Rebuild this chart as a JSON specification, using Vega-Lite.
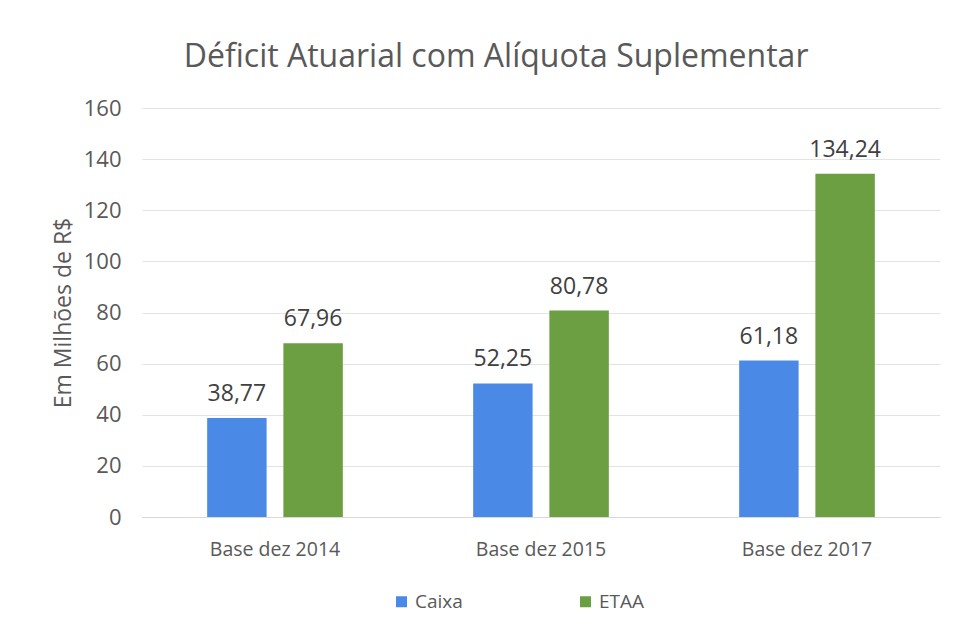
{
  "$schema": "https://vega.github.io/schema/vega-lite/v6.json",
  "width": 798,
  "height": 409,
  "padding": {"left": 52, "top": 41, "right": 8, "bottom": 10},
  "background": "white",
  "title": {
    "text": "Déficit Atuarial com Alíquota Suplementar",
    "font": "Open Sans",
    "fontSize": 32,
    "fontWeight": "normal",
    "color": "#595959",
    "anchor": "middle",
    "frame": "bounds",
    "offset": 23
  },
  "data": {
    "values": [
      {"base": "Base dez 2014", "serie": "Caixa", "valor": 38.77, "rotulo": "38,77"},
      {"base": "Base dez 2014", "serie": "ETAA", "valor": 67.96, "rotulo": "67,96"},
      {"base": "Base dez 2015", "serie": "Caixa", "valor": 52.25, "rotulo": "52,25"},
      {"base": "Base dez 2015", "serie": "ETAA", "valor": 80.78, "rotulo": "80,78"},
      {"base": "Base dez 2017", "serie": "Caixa", "valor": 61.18, "rotulo": "61,18"},
      {"base": "Base dez 2017", "serie": "ETAA", "valor": 134.24, "rotulo": "134,24"}
    ]
  },
  "encoding": {
    "x": {
      "field": "base",
      "type": "nominal",
      "sort": null,
      "scale": {"paddingInner": 0.49, "paddingOuter": 0.245},
      "axis": {
        "title": null,
        "labelAngle": 0,
        "labelFont": "Open Sans",
        "labelFontSize": 19.5,
        "labelColor": "#595959",
        "labelPadding": 23,
        "ticks": false,
        "domainColor": "#d9d9d9"
      }
    },
    "xOffset": {"field": "serie", "type": "nominal", "scale": {"paddingInner": 0.22}},
    "y": {
      "field": "valor",
      "type": "quantitative",
      "scale": {"domain": [0, 160]},
      "axis": {
        "title": "Em Milhões de R$",
        "titleFont": "Open Sans",
        "titleFontSize": 23,
        "titleFontWeight": "normal",
        "titleColor": "#595959",
        "titlePadding": 8,
        "labelFont": "Open Sans",
        "labelFontSize": 22,
        "labelColor": "#595959",
        "labelPadding": 21,
        "values": [0, 20, 40, 60, 80, 100, 120, 140, 160],
        "ticks": false,
        "domain": false,
        "gridColor": "#e3e3e3"
      }
    }
  },
  "layer": [
    {
      "mark": {"type": "bar"},
      "encoding": {
        "color": {
          "field": "serie",
          "type": "nominal",
          "scale": {"domain": ["Caixa", "ETAA"], "range": ["#4a89e6", "#6c9e42"]},
          "legend": {
            "title": null,
            "orient": "none",
            "legendX": 250,
            "legendY": 484,
            "direction": "horizontal",
            "symbolType": "square",
            "symbolSize": 121,
            "symbolStrokeWidth": 0,
            "labelFont": "Open Sans",
            "labelFontSize": 19,
            "labelColor": "#595959",
            "columnPadding": 113
          }
        }
      }
    },
    {
      "mark": {"type": "text", "baseline": "bottom", "dy": -12, "font": "Open Sans", "fontSize": 23, "color": "#404040"},
      "encoding": {"text": {"field": "rotulo"}}
    }
  ],
  "config": {"view": {"stroke": null}}
}
